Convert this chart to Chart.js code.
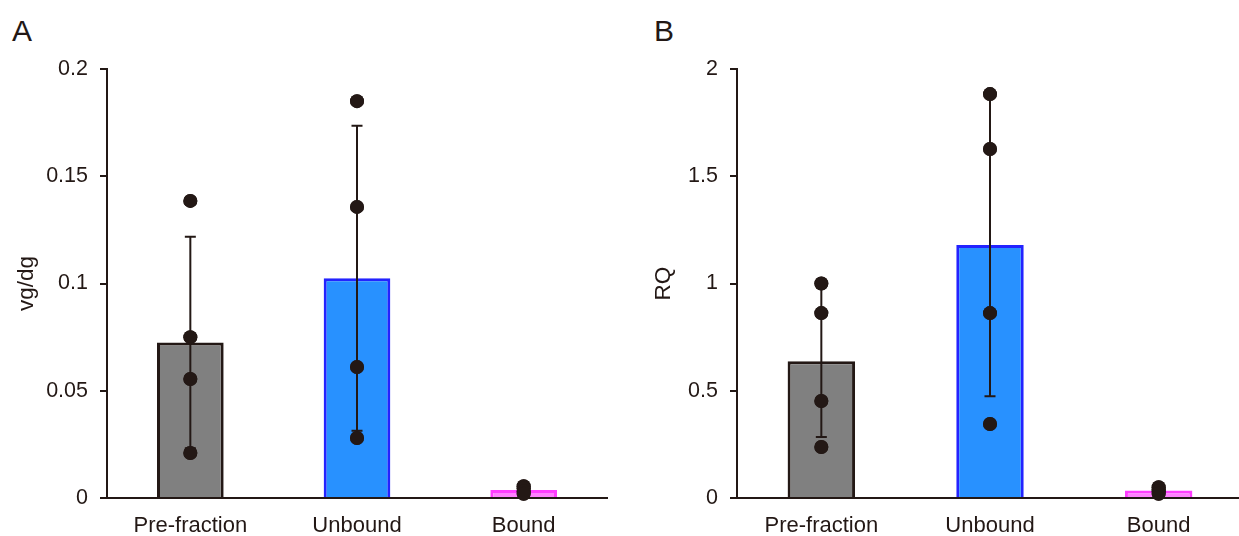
<!DOCTYPE html>
<html lang="en">
<head>
    <meta charset="UTF-8">
    <title>vg/dg and RQ by fraction</title>
    <script src="https://cdn.jsdelivr.net/npm/chart.js"></script>
    <style>
        body { margin: 0; background: #fff; width: 1239px; height: 536px; overflow: hidden; position: relative; font-family: "Liberation Sans", Arial, sans-serif; }
        .panel { position: absolute; top: 0; height: 536px; }
        .tag { position: absolute; top: 14px; font-size: 30px; color: #231815; line-height: 1.15; }
    </style>
</head>
<body>
    <div class="tag" style="left: 12px;">A</div>
    <div class="tag" style="left: 654px;">B</div>
    <div class="panel" style="left: 0; width: 620px;"><canvas id="chartA"></canvas></div>
    <div class="panel" style="left: 630px; width: 620px;"><canvas id="chartB"></canvas></div>

    <script>
        const categories = ['Pre-fraction', 'Unbound', 'Bound'];

        // individual replicates, panel A (vg/dg)
        const preA = [0.1385, 0.075, 0.0555, 0.021];
        const unboundA = [0.185, 0.1357, 0.0611, 0.028];
        const boundA = [0.0055, 0.0045, 0.003, 0.002];

        // individual replicates, panel B (RQ)
        const preB = [1.0, 0.862, 0.452, 0.238];
        const unboundB = [1.883, 1.627, 0.862, 0.345];
        const boundB = [0.05, 0.04, 0.03, 0.02];

        const ticksA = [0, 0.05, 0.1, 0.15, 0.2];
        const ticksB = [0, 0.5, 1, 1.5, 2];

        const ink = '#231815';
        const fills = ['#808080', '#2891ff', '#ff80ff'];
        const borders = [ink, '#2323ff', '#ff3dff'];

        const mean = arr => arr.reduce((a, b) => a + b, 0) / arr.length;
        const sd = arr => {
            const m = mean(arr);
            return Math.sqrt(arr.reduce((a, b) => a + (b - m) ** 2, 0) / (arr.length - 1));
        };

        const errorBars = {
            id: 'errorBars',
            afterDatasetsDraw(chart, args, opts) {
                const groups = opts.groups;
                const xs = chart.scales.x, ys = chart.scales.y;
                const c = chart.ctx;
                c.save();
                c.strokeStyle = ink;
                c.lineWidth = 2;
                groups.forEach((g, i) => {
                    const m = mean(g), s = sd(g);
                    const x = xs.getPixelForValue(i);
                    const top = ys.getPixelForValue(m + s);
                    const bot = ys.getPixelForValue(Math.max(m - s, 0));
                    c.beginPath();
                    c.moveTo(x, top); c.lineTo(x, bot);
                    c.moveTo(x - 5.5, top); c.lineTo(x + 5.5, top);
                    c.moveTo(x - 5.5, bot); c.lineTo(x + 5.5, bot);
                    c.stroke();
                });
                // redraw points above the error lines
                chart.getDatasetMeta(1).controller.draw();
                c.restore();
            }
        };

        function makeChart(id, groups, ticks, max, title, titlePad, rightPad) {
            const points = [];
            groups.forEach((g, i) => g.forEach(v => points.push({ x: categories[i], y: v })));

            return new Chart(document.getElementById(id).getContext('2d'), {
                type: 'bar',
                data: {
                    labels: categories,
                    datasets: [
                        {
                            data: groups.map(mean),
                            backgroundColor: fills,
                            borderColor: borders,
                            borderWidth: 3,
                            barPercentage: 0.4,
                            categoryPercentage: 1,
                            order: 2
                        },
                        {
                            type: 'line',
                            data: points,
                            showLine: false,
                            pointRadius: 7,
                            pointBackgroundColor: ink,
                            pointBorderWidth: 0,
                            clip: false,
                            order: 1
                        }
                    ]
                },
                options: {
                    responsive: false,
                    animation: false,
                    layout: { padding: { top: 69, right: rightPad, bottom: 0, left: 0 } },
                    plugins: {
                        legend: { display: false },
                        tooltip: { enabled: false },
                        errorBars: { groups: groups }
                    },
                    scales: {
                        x: {
                            grid: { display: false, drawTicks: false },
                            border: { display: true, color: ink, width: 2 },
                            ticks: { color: ink, font: { size: 22, family: '"Liberation Sans", Arial' }, padding: 15 },
                            afterFit: s => { s.height = 38; }
                        },
                        y: {
                            min: 0,
                            max: max,
                            afterBuildTicks: s => { s.ticks = ticks.map(v => ({ value: v })); },
                            grid: { drawOnChartArea: false, drawTicks: true, tickLength: 7, color: ink, lineWidth: 2 },
                            border: { display: true, color: ink, width: 2 },
                            ticks: {
                                color: ink,
                                font: { size: 21.5, family: '"Liberation Sans", Arial' },
                                padding: 12,
                                callback: v => String(v)
                            },
                            title: { display: true, text: title, color: ink, font: { size: 22.5, family: '"Liberation Sans", Arial' }, padding: { top: titlePad, bottom: 0 } },
                            afterFit: s => { s.width = 107; }
                        }
                    }
                },
                plugins: [errorBars]
            });
        }

        const cA = document.getElementById('chartA');
        const cB = document.getElementById('chartB');
        cA.width = 620; cA.height = 536;
        cB.width = 620; cB.height = 536;

        makeChart('chartA', [preA, unboundA, boundA], ticksA, 0.2, 'vg/dg', 13, 13);
        makeChart('chartB', [preB, unboundB, boundB], ticksB, 2, 'RQ', 20, 3);
    </script>
</body>
</html>
